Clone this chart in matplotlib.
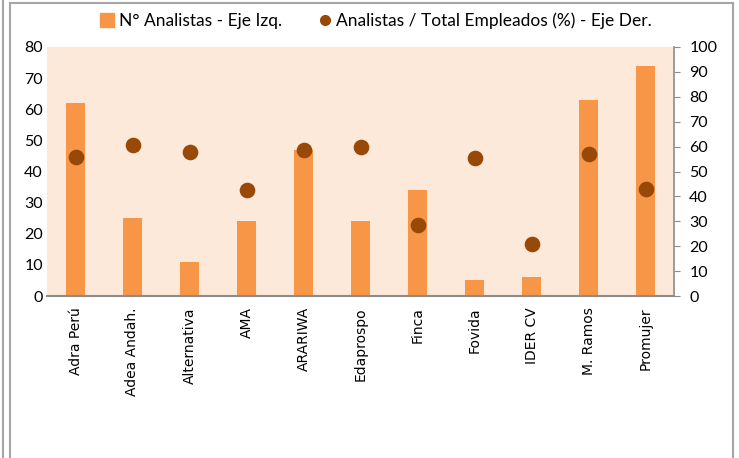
import numpy as np
import matplotlib
matplotlib.use('Agg')
import matplotlib.pyplot as plt
from matplotlib.lines import Line2D

entidades = ['Adra Perú', 'Adea Andah.', 'Alternativa', 'AMA', 'ARARIWA', 'Edaprospo',
             'Finca', 'Fovida', 'IDER CV', 'M. Ramos', 'Promujer']
n_analistas = [62, 25, 11, 24, 47, 24, 34, 5, 6, 63, 74]
pct_analistas = [55.8, 60.6, 57.8, 42.6, 58.5, 59.8, 28.5, 55.4, 20.9, 57.0, 43.0]

W, H = 739, 458
fig = plt.figure(figsize=(W / 100, H / 100), dpi=100)
fig.patch.set_facecolor('white')
plt.rcParams['font.family'] = ['Lato', 'DejaVu Sans']

x0, x1, y0, y1 = 47, 674, 47, 296
ax = fig.add_axes([x0 / W, 1 - y1 / H, (x1 - x0) / W, (y1 - y0) / H])
ax.set_facecolor('#FDE9D9')
x = np.arange(len(entidades))
ax.bar(x, n_analistas, width=0.33, color='#F79646', zorder=2)
ax.set_xlim(-0.5, len(entidades) - 0.5)
ax.set_ylim(0, 80)
ax.set_yticks(np.arange(0, 81, 10))
ax.set_xticks(x)
ax.set_xticklabels(entidades, rotation=90, fontsize=10, family='DejaVu Sans', color='#000000')
ax.tick_params(axis='x', length=0, pad=8)
ax.tick_params(axis='y', length=0, pad=3, labelsize=11.5, labelcolor='#000000')
for s in ['top', 'left', 'right']:
    ax.spines[s].set_visible(False)
ax.spines['bottom'].set_color('#8C8C8C')
ax.spines['bottom'].set_linewidth(1.5)

ax2 = ax.twinx()
ax2.scatter(x, pct_analistas, s=105, color='#984807', zorder=3)
ax2.set_ylim(0, 100)
ax2.set_yticks(np.arange(0, 101, 10))
ax2.tick_params(axis='y', length=4, color='#8C8C8C', pad=7, labelsize=11.5, labelcolor='#000000')
for s in ['top', 'left', 'bottom']:
    ax2.spines[s].set_visible(False)
ax2.spines['right'].set_color('#8C8C8C')
ax2.spines['right'].set_linewidth(1.2)

handles = [Line2D([], [], marker='s', linestyle='none', markersize=10, color='#F79646'),
           Line2D([], [], marker='o', linestyle='none', markersize=7, color='#984807')]
fig.legend(handles, ['N° Analistas - Eje Izq.', 'Analistas / Total Empleados (%) - Eje Der.'],
           loc='center', bbox_to_anchor=(0.508, 1 - 21 / H), ncol=2, frameon=False,
           fontsize=12.5, handletextpad=0.15, columnspacing=2.0, handlelength=1.0)

# chart border
fig.add_artist(Line2D([3 / W, 3 / W], [0, 1], color='#A6A6A6', lw=1.5))
fig.add_artist(Line2D([10 / W, 10 / W], [0, 1 - 3 / H], color='#A6A6A6', lw=1.5))
fig.add_artist(Line2D([10 / W, 733 / W], [1 - 3 / H, 1 - 3 / H], color='#A6A6A6', lw=1.5))
fig.add_artist(Line2D([733 / W, 733 / W], [0, 1 - 3 / H], color='#A6A6A6', lw=1.5))

fig.savefig('out.png', dpi=100)
